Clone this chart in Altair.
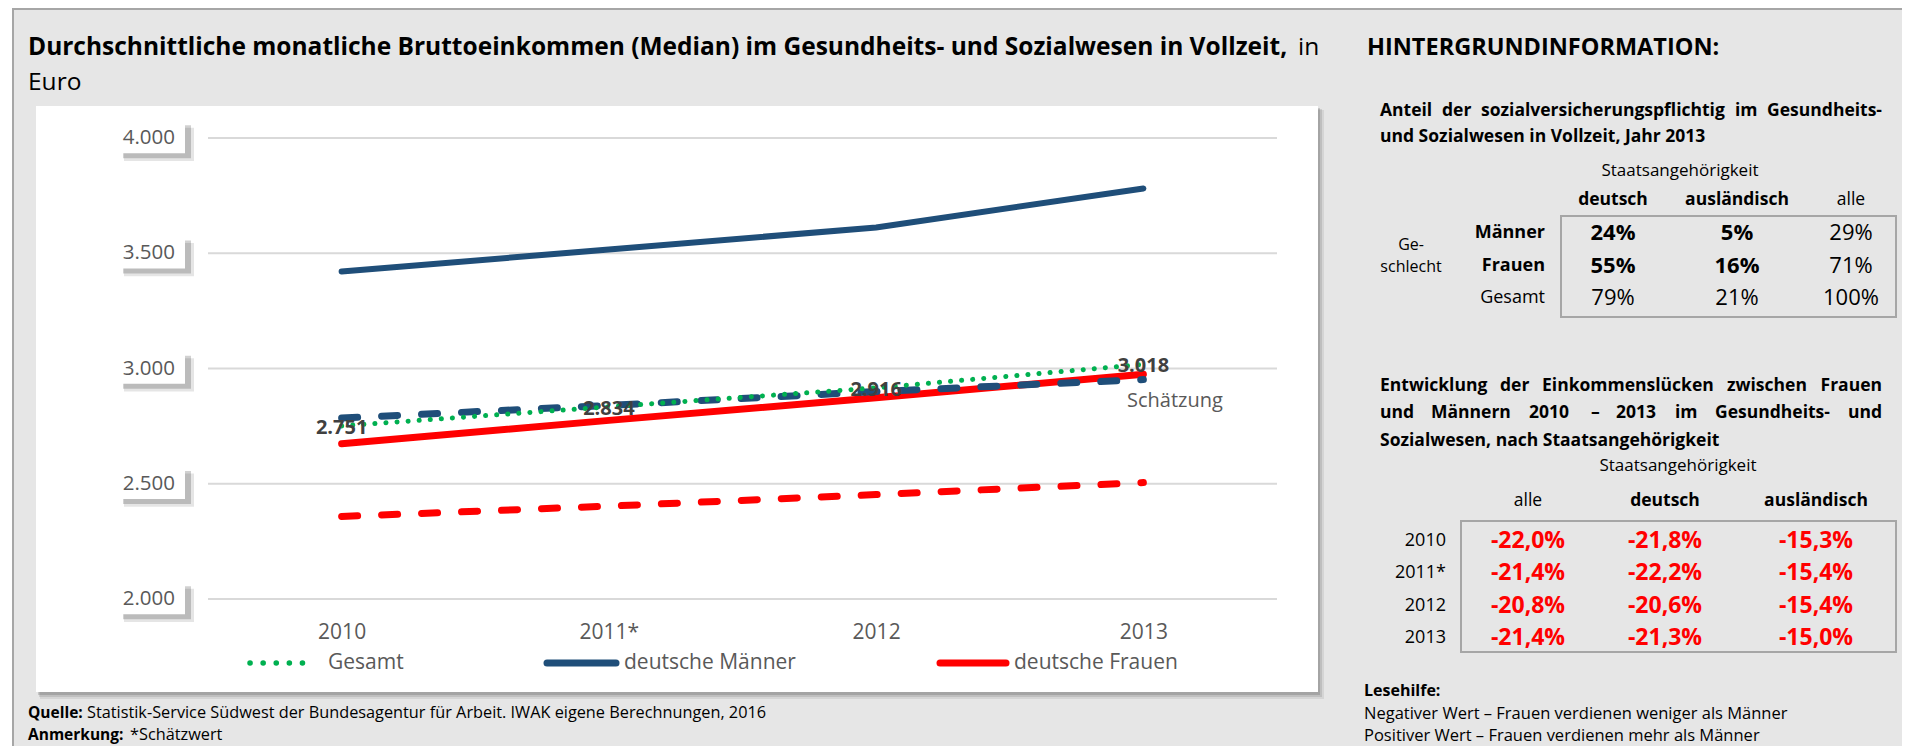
import altair as alt
import pandas as pd

FONT = "Open Sans"

# ---------------- data ----------------
years = ["2010", "2011*", "2012", "2013"]
gesamt = [2751, 2834, 2916, 3018]
deutsche_maenner = [3421, 3516, 3612, 3781]
deutsche_frauen = [2674, 2775, 2873, 2975]
auslaendische_maenner = [2785, 2840, 2900, 2952]
auslaendische_frauen = [2358, 2403, 2453, 2505]
y_ticks = [2000, 2500, 3000, 3500, 4000]

t1_cols = ["deutsch", "ausländisch", "alle"]
t1_rows = ["Männer", "Frauen", "Gesamt"]
t1_values = [["24%", "5%", "29%"],
             ["55%", "16%", "71%"],
             ["79%", "21%", "100%"]]

t2_cols = ["alle", "deutsch", "ausländisch"]
t2_rows = ["2010", "2011*", "2012", "2013"]
t2_values = [["-22,0%", "-21,8%", "-15,3%"],
             ["-21,4%", "-22,2%", "-15,4%"],
             ["-20,8%", "-20,6%", "-15,4%"],
             ["-21,4%", "-21,3%", "-15,0%"]]

series = {
    "Gesamt": gesamt,
    "deutsche Männer": deutsche_maenner,
    "deutsche Frauen": deutsche_frauen,
    "ausländische Männer": auslaendische_maenner,
    "ausländische Frauen": auslaendische_frauen,
}

# ---------------- tables ----------------
recs = []
for name, vals in series.items():
    for yr, v in zip(years, vals):
        recs.append({"Jahr": yr, "Serie": name, "Wert": v,
                     "label": f"{v:,}".replace(",", ".")})
df = pd.DataFrame(recs)

ticks_df = pd.DataFrame({"Wert": y_ticks,
                         "label": [f"{v:,}".replace(",", ".") for v in y_ticks]})

t1_df = pd.DataFrame([{"r1": ri, "c1": ci, "row": r, "col": c, "txt": t1_values[ri][ci]}
                      for ri, r in enumerate(t1_rows) for ci, c in enumerate(t1_cols)])
t1_head = pd.DataFrame({"c1": list(range(len(t1_cols))), "col": t1_cols})
t1_rowlab = pd.DataFrame({"r1": list(range(len(t1_rows))), "row": t1_rows})

t2_df = pd.DataFrame([{"r2": ri, "c2": ci, "row": r, "col": c, "txt": t2_values[ri][ci]}
                      for ri, r in enumerate(t2_rows) for ci, c in enumerate(t2_cols)])
t2_head = pd.DataFrame({"c2": list(range(len(t2_cols))), "col": t2_cols})
t2_rowlab = pd.DataFrame({"r2": list(range(len(t2_rows))), "row": t2_rows})

one = pd.DataFrame({"k": [0]})

W, H = 1069, 461


def T(s, x, y, size=15, weight="normal", color="#000000", align="left"):
    return alt.Chart(one).mark_text(
        text=s, font=FONT, fontSize=size, fontWeight=weight, color=color,
        align=align, baseline="middle"
    ).encode(x=alt.value(x), y=alt.value(y))


def R(x0, x1, y0, y1, **kw):
    return alt.Chart(one).mark_rect(**kw).encode(
        x=alt.value(x0), x2=alt.value(x1), y=alt.value(y0), y2=alt.value(y1))


def HR(x0, x1, y, **kw):
    return alt.Chart(one).mark_rule(**kw).encode(
        x=alt.value(x0), x2=alt.value(x1), y=alt.value(y))


# ---------------- main chart scales ----------------
XS = alt.Scale(type="point", padding=0.5, domain=years)
XAX = alt.Axis(title=None, labelAngle=0, labelFont=FONT, labelFontSize=21,
               labelColor="#595959", ticks=False, tickSize=0, domain=False,
               grid=False, labelPadding=33, labelBaseline="middle", zindex=1)
XE = alt.X("Jahr:N", scale=XS, axis=XAX, sort=years)
YS = alt.Scale(domain=[2000, 4000], nice=False, zero=False)
YE = alt.Y("Wert:Q", scale=YS, axis=None)

grid = alt.Chart(ticks_df).mark_rule(color="#d9d9d9", strokeWidth=2).encode(
    y=YE, x=alt.value(0), x2=alt.value(W))

box_shadow1 = alt.Chart(ticks_df).transform_calculate(
    lo="datum.Wert - 100", hi="datum.Wert + 45"
).mark_rect(fill="#000000", opacity=0.10).encode(
    x=alt.value(-84), x2=alt.value(-14),
    y=alt.Y("lo:Q", scale=YS, axis=None), y2="hi:Q")
box_shadow2 = alt.Chart(ticks_df).transform_calculate(
    lo="datum.Wert - 88", hi="datum.Wert + 55"
).mark_rect(fill="#000000", opacity=0.18).encode(
    x=alt.value(-85), x2=alt.value(-17),
    y=alt.Y("lo:Q", scale=YS, axis=None), y2="hi:Q")
boxes = alt.Chart(ticks_df).transform_calculate(
    lo="datum.Wert - 66", hi="datum.Wert + 66"
).mark_rect(fill="white").encode(
    x=alt.value(-87), x2=alt.value(-23),
    y=alt.Y("lo:Q", scale=YS, axis=None), y2="hi:Q")
ylabels = alt.Chart(ticks_df).mark_text(
    font=FONT, fontSize=20.5, color="#595959", align="right", baseline="middle"
).encode(x=alt.value(-33), y=YE, text="label:N")


def line(name, color, width, **kw):
    return alt.Chart(df).transform_filter(alt.datum.Serie == name).mark_line(
        color=color, strokeWidth=width, **kw).encode(x=XE, y=YE)


BLUE = "#1f4e79"
RED = "#ff0000"
GREEN = "#00b050"

l_af = line("ausländische Frauen", RED, 7, strokeDash=[16, 24], strokeCap="round")
l_dm = line("deutsche Männer", BLUE, 6, strokeCap="round")
l_df = line("deutsche Frauen", RED, 7, strokeCap="round")
l_am = line("ausländische Männer", BLUE, 7, strokeDash=[16, 24], strokeCap="round")
l_g = line("Gesamt", GREEN, 5, strokeDash=[0.1, 11], strokeCap="round")

dlabels = alt.Chart(df).transform_filter(alt.datum.Serie == "Gesamt").mark_text(
    font=FONT, fontSize=20, fontWeight="bold", color="#404040", dy=2
).encode(x=XE, y=YE, text="label:N")

schaetzung = T("Schätzung", 919, 263, size=20, color="#595959")

main = alt.layer(grid, box_shadow1, box_shadow2, boxes, ylabels,
                 l_af, l_dm, l_df, l_am, l_g, dlabels, schaetzung)

# ---------------- decorations ----------------
frame = R(-195, 1710, -129, 640, fill="#e6e6e6", stroke="#a6a6a6", strokeWidth=2)
card_sh = [R(-168, 1116, -28, 561, fill="#000000", opacity=0.07),
           R(-169, 1114, -29, 559, fill="#000000", opacity=0.10),
           R(-170, 1112, -30, 557, fill="#000000", opacity=0.14)]
card = R(-172, 1110, -32, 554, fill="white")

legend = [
    HR(42, 107, 525, color=GREEN, strokeWidth=5.5, strokeDash=[0.1, 13], strokeCap="round"),
    T("Gesamt", 120, 525, size=21, color="#595959"),
    HR(339, 408, 525, color=BLUE, strokeWidth=7, strokeCap="round"),
    T("deutsche Männer", 416, 525, size=21, color="#595959"),
    HR(732, 798, 525, color=RED, strokeWidth=7, strokeCap="round"),
    T("deutsche Frauen", 806, 525, size=21, color="#595959"),
]

titles = [
    T("Durchschnittliche monatliche Bruttoeinkommen (Median) im Gesundheits- und Sozialwesen in Vollzeit,",
      -180, -90, size=24.5, weight="bold"),
    T("in", 1090, -90, size=24.5),
    T("Euro", -180, -55, size=24.5),
    T("HINTERGRUNDINFORMATION:", 1159, -90, size=23.5, weight="bold"),
    T("Quelle:", -180, 575, size=15.5, weight="bold"),
    T("Statistik-Service Südwest der Bundesagentur für Arbeit. IWAK eigene Berechnungen, 2016",
      -121, 575, size=16.3),
    T("Anmerkung:", -180, 597, size=15.5, weight="bold"),
    T("*Schätzwert", -78, 597, size=16.3),
]

# ---------------- table 1 ----------------
X1 = alt.X("c1:Q", scale=alt.Scale(domain=[0, 1, 2], range=[1405, 1529, 1643],
                                    nice=False, zero=False), axis=None)
Y1 = alt.Y("r1:Q", scale=alt.Scale(domain=[0, 2], range=[95, 160],
                                    nice=False, zero=False), axis=None)
TS = 17.5
t1_layers = [
    R(1353, 1688, 78, 179, fill="white", fillOpacity=0, stroke="#a6a6a6", strokeWidth=2),
    T("Anteil", 1172, -27, size=TS, weight="bold"),
    T("der", 1234, -27, size=TS, weight="bold"),
    T("sozialversicherungspflichtig", 1273, -27, size=TS, weight="bold"),
    T("im", 1527, -27, size=TS, weight="bold"),
    T("Gesundheits-", 1674, -27, size=TS, weight="bold", align="right"),
    T("und Sozialwesen in Vollzeit, Jahr 2013", 1172, -1, size=TS, weight="bold"),
    T("Staatsangehörigkeit", 1472, 33, size=17, align="center"),
    T("Ge-", 1203, 107, size=16, align="center"),
    T("schlecht", 1203, 129, size=16, align="center"),
    alt.Chart(t1_head).transform_filter("datum.col != 'alle'").mark_text(
        font=FONT, fontSize=17.5, fontWeight="bold", color="#000000", baseline="middle"
    ).encode(x=X1, y=alt.value(62), text="col:N"),
    alt.Chart(t1_head).transform_filter("datum.col == 'alle'").mark_text(
        font=FONT, fontSize=17.5, color="#000000", baseline="middle"
    ).encode(x=X1, y=alt.value(62), text="col:N"),
    alt.Chart(t1_rowlab).transform_filter("datum.row != 'Gesamt'").mark_text(
        font=FONT, fontSize=18, fontWeight="bold", color="#000000", align="right", baseline="middle"
    ).encode(x=alt.value(1337), y=Y1, text="row:N"),
    alt.Chart(t1_rowlab).transform_filter("datum.row == 'Gesamt'").mark_text(
        font=FONT, fontSize=18, color="#000000", align="right", baseline="middle"
    ).encode(x=alt.value(1337), y=Y1, text="row:N"),
    alt.Chart(t1_df).transform_filter("datum.row != 'Gesamt' && datum.col != 'alle'").mark_text(
        font=FONT, fontSize=22, fontWeight="bold", color="#000000", baseline="middle"
    ).encode(x=X1, y=Y1, text="txt:N"),
    alt.Chart(t1_df).transform_filter("datum.row == 'Gesamt' || datum.col == 'alle'").mark_text(
        font=FONT, fontSize=22, color="#000000", baseline="middle"
    ).encode(x=X1, y=Y1, text="txt:N"),
]
t1 = alt.layer(*t1_layers)

# ---------------- table 2 ----------------
X2 = alt.X("c2:Q", scale=alt.Scale(domain=[0, 1, 2], range=[1320, 1457, 1608],
                                    nice=False, zero=False), axis=None)
Y2 = alt.Y("r2:Q", scale=alt.Scale(domain=[0, 3], range=[403, 500],
                                    nice=False, zero=False), axis=None)
t2_layers = [
    R(1253, 1688, 383, 514, fill="white", fillOpacity=0, stroke="#a6a6a6", strokeWidth=2),
    T("Entwicklung", 1172, 248, size=TS, weight="bold"),
    T("der", 1292, 248, size=TS, weight="bold"),
    T("Einkommenslücken", 1334, 248, size=TS, weight="bold"),
    T("zwischen", 1519, 248, size=TS, weight="bold"),
    T("Frauen", 1674, 248, size=TS, weight="bold", align="right"),
    T("und", 1172, 275, size=TS, weight="bold"),
    T("Männern", 1223, 275, size=TS, weight="bold"),
    T("2010", 1321, 275, size=TS, weight="bold"),
    T("–", 1383, 275, size=TS, weight="bold"),
    T("2013", 1408, 275, size=TS, weight="bold"),
    T("im", 1467, 275, size=TS, weight="bold"),
    T("Gesundheits-", 1507, 275, size=TS, weight="bold"),
    T("und", 1674, 275, size=TS, weight="bold", align="right"),
    T("Sozialwesen, nach Staatsangehörigkeit", 1172, 303, size=TS, weight="bold"),
    T("Staatsangehörigkeit", 1470, 328, size=17, align="center"),
    alt.Chart(t2_head).transform_filter("datum.col != 'alle'").mark_text(
        font=FONT, fontSize=17.5, fontWeight="bold", color="#000000", baseline="middle"
    ).encode(x=X2, y=alt.value(363), text="col:N"),
    alt.Chart(t2_head).transform_filter("datum.col == 'alle'").mark_text(
        font=FONT, fontSize=17.5, color="#000000", baseline="middle"
    ).encode(x=X2, y=alt.value(363), text="col:N"),
    alt.Chart(t2_rowlab).mark_text(
        font=FONT, fontSize=18, color="#000000", align="right", baseline="middle"
    ).encode(x=alt.value(1238), y=Y2, text="row:N"),
    alt.Chart(t2_df).mark_text(
        font=FONT, fontSize=23, fontWeight="bold", color=RED, baseline="middle"
    ).encode(x=X2, y=Y2, text="txt:N"),
    T("Lesehilfe:", 1156, 553, size=16, weight="bold"),
    T("Negativer Wert – Frauen verdienen weniger als Männer", 1156, 576, size=16.5),
    T("Positiver Wert – Frauen verdienen mehr als Männer", 1156, 598, size=16.5),
]
t2 = alt.layer(*t2_layers)

chart = alt.layer(
    frame, *card_sh, card, main, *legend, *titles, t1, t2
).resolve_scale(
    x="independent", y="independent"
).properties(
    width=W, height=H,
    padding={"left": 200, "top": 130, "right": 625, "bottom": 147},
    autosize=alt.AutoSizeParams(type="none"),
    background="white",
).configure_view(stroke=None)

chart.save("out.html", embed_options={"renderer": "svg", "actions": False})
